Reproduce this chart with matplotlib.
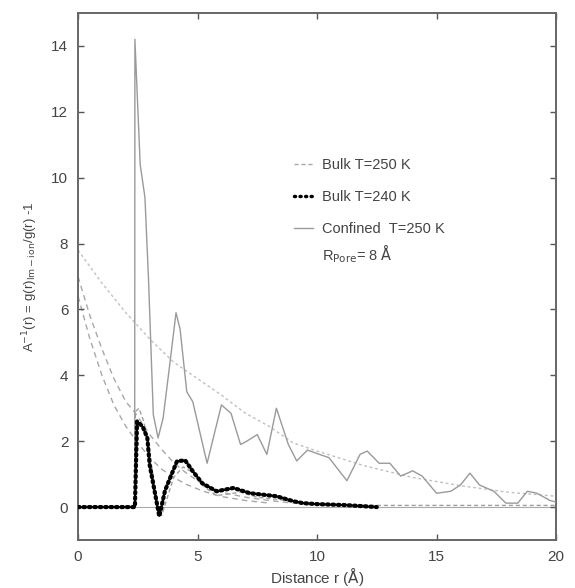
import matplotlib
matplotlib.use("Agg")
import matplotlib.pyplot as plt
from matplotlib.lines import Line2D

plt.rcParams["font.family"] = ["Liberation Sans", "DejaVu Sans"]

# confined water, T=250 K (solid grey)
r_conf = [0, 2.37, 2.38, 2.6, 2.8, 2.95, 3.15, 3.35, 3.56, 3.85, 4.1, 4.27, 4.55, 4.8,
          5.4, 6.0, 6.4, 6.8, 7.06, 7.5, 7.9, 8.3, 8.8, 9.15, 9.6, 10.1, 10.5, 11.25,
          11.8, 12.1, 12.6, 13.05, 13.5, 14.0, 14.4, 15.0, 15.6, 16.0, 16.4, 16.8,
          17.4, 17.9, 18.4, 18.8, 19.2, 19.75, 20.0]
g_conf = [0, 0, 14.2, 10.4, 9.4, 6.9, 2.8, 2.1, 2.7, 4.4, 5.9, 5.4, 3.5, 3.2,
          1.33, 3.1, 2.85, 1.9, 2.0, 2.2, 1.6, 3.0, 1.9, 1.4, 1.73, 1.6, 1.5, 0.8,
          1.6, 1.7, 1.33, 1.33, 0.94, 1.1, 0.94, 0.42, 0.48, 0.67, 1.03, 0.67,
          0.48, 0.12, 0.12, 0.48, 0.42, 0.2, 0.15]

# bulk T=240 K (black dots)
r_b240 = [0, 2.38, 2.47, 2.7, 2.9, 3.0, 3.2, 3.4, 3.64, 3.85, 4.14, 4.48, 4.8, 5.2,
          5.8, 6.5, 7.2, 8.3, 9.0, 9.4, 10.0, 11.2, 12.5]
g_b240 = [0, 0, 2.6, 2.45, 2.1, 1.27, 0.5, -0.28, 0.5, 0.88, 1.39, 1.42, 1.09, 0.72,
          0.48, 0.58, 0.42, 0.33, 0.18, 0.12, 0.09, 0.06, 0.0]

# bulk T=250 K (grey dashed)
r_b250 = [0, 2.38, 2.4, 2.55, 2.75, 2.95, 3.15, 3.35, 3.5, 3.7, 4.0, 4.4, 4.8, 5.3,
          5.8, 6.3, 6.8, 7.5, 8.5, 9.5, 10.5, 12, 14, 16, 18, 20]
g_b250 = [0, 0, 2.9, 3.0, 2.6, 1.9, 0.9, -0.1, -0.25, 0.2, 0.9, 1.22, 1.05, 0.6,
          0.35, 0.4, 0.45, 0.3, 0.22, 0.1, 0.06, 0.05, 0.05, 0.05, 0.05, 0.05]

# smooth decay curves
r_fit1 = [0, 1, 2, 3, 4, 5, 6, 7, 8, 9, 10, 12, 14, 16, 18, 20]
g_fit1 = [7.8, 6.8, 5.9, 5.1, 4.4, 3.9, 3.4, 2.85, 2.45, 1.95, 1.7, 1.25, 0.9, 0.65, 0.45, 0.33]
r_fit2 = [0, 0.5, 1, 1.5, 2, 2.4, 3, 3.5, 4, 4.5, 5, 5.5, 6, 7, 8, 9, 10]
g_fit2 = [7.0, 5.8, 4.8, 3.9, 3.2, 2.85, 2.2, 1.75, 1.35, 1.05, 0.8, 0.6, 0.45, 0.3, 0.2, 0.12, 0.08]
r_fit3 = [0, 0.5, 1, 1.5, 2, 2.5, 3, 3.5, 4, 4.5, 5, 5.5, 6, 7, 8]
g_fit3 = [6.4, 5.1, 4.0, 3.1, 2.45, 1.95, 1.5, 1.15, 0.9, 0.7, 0.55, 0.42, 0.32, 0.2, 0.12]

fig = plt.figure(figsize=(5.75, 5.88), dpi=100)
ax = fig.add_axes([0.1357, 0.0816, 0.8313, 0.8964])

ax.axhline(0, color="#aaaaaa", lw=0.8, zorder=1)
ax.plot(r_fit1, g_fit1, color="#c0c0c0", lw=1.0, ls=(0, (2, 2)), zorder=1)
ax.plot(r_fit2, g_fit2, color="#a8a8a8", lw=1.0, ls=(0, (4, 3)), zorder=1)
ax.plot(r_fit3, g_fit3, color="#a8a8a8", lw=1.0, ls=(0, (4, 3)), zorder=1)
ax.plot(r_b250, g_b250, color="#a0a0a0", lw=1.0, ls=(0, (3, 2)), zorder=2)
ax.plot(r_conf, g_conf, color="#9a9a9a", lw=1.0, zorder=3)
ax.plot(r_b240, g_b240, color="black", lw=3.0, ls=(0, (0.4, 0.9)),
        dash_capstyle="round", zorder=4)

handles = [
    Line2D([], [], color="#a8a8a8", lw=1.0, ls=(0, (3, 2))),
    Line2D([], [], color="black", lw=2.5, ls=(0, (0.3, 1.3)), dash_capstyle="round"),
    Line2D([], [], color="#9a9a9a", lw=1.0),
]
labels = ["Bulk T=250 K", "Bulk T=240 K", "Confined  T=250 K"]
leg = ax.legend(handles, labels, loc="upper left", bbox_to_anchor=(0.425, 0.75),
                frameon=False, fontsize=10.5, handlelength=1.3, handletextpad=0.6,
                labelspacing=1.25, labelcolor="#444444")
ax.text(10.2, 7.7, r"R$_{\rm Pore}$= 8 $\rm\AA$", fontsize=10.5, color="#444444",
        va="center")

ax.set_xlim(0, 20)
ax.set_ylim(-1, 15)
ax.set_xticks([0, 5, 10, 15, 20])
ax.set_yticks([0, 2, 4, 6, 8, 10, 12, 14])
ax.tick_params(direction="in", top=True, right=True, length=4, width=1,
               colors="#555555", labelsize=11, labelcolor="#444444", pad=7)
for s in ax.spines.values():
    s.set_color("#666666")
    s.set_linewidth(1.4)

ax.set_xlabel(r"Distance r ($\rm\AA$)", fontsize=11, color="#444444", labelpad=1)
ax.set_ylabel(r"A$^{-1}$(r) = g(r)$_{\rm Im-ion}$/g(r) -1", fontsize=9.5,
              color="#444444", labelpad=8)

fig.savefig("out.png", dpi=100)
